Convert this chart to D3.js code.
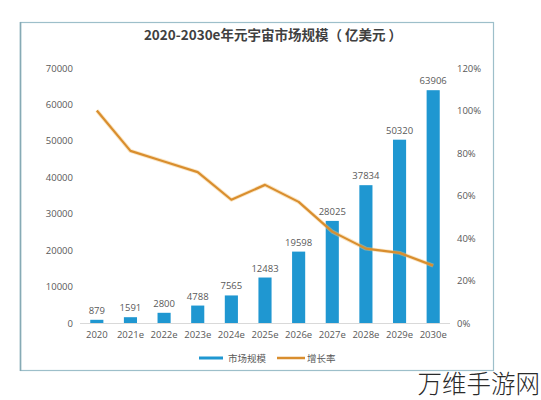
<!DOCTYPE html>
<html><head><meta charset="utf-8">
<script src="https://cdn.jsdelivr.net/npm/d3@7"></script>
<style>
html,body{margin:0;padding:0;background:#fff;}
svg{display:block;font-family:"Open Sans","Noto Sans CJK SC",sans-serif;}
</style></head>
<body><svg id="c" width="541" height="400"></svg>
<script>
const categories = ["2020","2021e","2022e","2023e","2024e","2025e","2026e","2027e","2028e","2029e","2030e"];
const marketSize = [879,1591,2800,4788,7565,12483,19598,28025,37834,50320,63906];
const growthRate = [1.00,0.81,0.76,0.71,0.58,0.65,0.57,0.43,0.35,0.33,0.27];
const leftTicks = [0,10000,20000,30000,40000,50000,60000,70000];
const rightTicks = [0,0.2,0.4,0.6,0.8,1.0,1.2];
const title = "2020-2030e年元宇宙市场规模（ 亿美元 ）";
const legendLabels = ["市场规模","增长率"];

const svg = d3.select("#c");
// frame
svg.append("rect").attr("x",20.5).attr("y",22.5).attr("width",473).attr("height",348)
  .attr("fill","#fff").attr("stroke","#9dbfca").attr("stroke-width",1.2);
svg.append("line").attr("x1",20.5).attr("x2",20.5).attr("y1",22).attr("y2",371)
  .attr("stroke","#86aab5").attr("stroke-width",1.6);

svg.append("text").attr("x",273).attr("y",40).attr("text-anchor","middle")
  .attr("font-size",13.5).attr("font-weight","bold").attr("fill","#404040")
  .attr("font-family","'Noto Sans CJK SC',sans-serif").text(title);

const x = d3.scaleBand().domain(categories).range([80,450]).paddingInner(0.61).paddingOuter(0.305);
const yL = d3.scaleLinear().domain([0,70000]).range([323,68]);
const yR = d3.scaleLinear().domain([0,1.2]).range([323,68]);

// baseline
svg.append("line").attr("x1",80).attr("x2",450).attr("y1",323.5).attr("y2",323.5)
  .attr("stroke","#d9d9d9").attr("stroke-width",1);

const axL = svg.append("g").attr("transform","translate(73,0)")
  .call(d3.axisLeft(yL).tickValues(leftTicks).tickSize(0).tickPadding(0).tickFormat(d3.format("d")));
axL.select(".domain").remove();
axL.selectAll("text").attr("font-size",9.5).attr("fill","#595959").attr("font-family","'Open Sans',sans-serif");

const axR = svg.append("g").attr("transform","translate(457,0)")
  .call(d3.axisRight(yR).tickValues(rightTicks).tickSize(0).tickPadding(0).tickFormat(d3.format(".0%")));
axR.select(".domain").remove();
axR.selectAll("text").attr("font-size",9.5).attr("fill","#595959").attr("font-family","'Open Sans',sans-serif");

const axB = svg.append("g").attr("transform","translate(0,331)")
  .call(d3.axisBottom(x).tickSize(0).tickPadding(0));
axB.select(".domain").remove();
axB.selectAll("text").attr("font-size",9.5).attr("fill","#595959").attr("font-family","'Open Sans',sans-serif");

svg.append("g").selectAll("rect").data(marketSize).join("rect")
  .attr("x",(d,i)=>x(categories[i])).attr("width",x.bandwidth())
  .attr("y",d=>yL(d)).attr("height",d=>yL(0)-yL(d)).attr("fill","#1f97d1");

svg.append("g").selectAll("text").data(marketSize).join("text")
  .attr("x",(d,i)=>x(categories[i])+x.bandwidth()/2).attr("y",d=>yL(d)-6)
  .attr("text-anchor","middle").attr("font-size",9.5).attr("fill","#595959")
  .attr("font-family","'Open Sans',sans-serif").text(d=>d);

const line = d3.line().x((d,i)=>x(categories[i])+x.bandwidth()/2).y(d=>yR(d));
svg.append("path").datum(growthRate).attr("d",line).attr("fill","none")
  .attr("stroke","#f5c67a").attr("stroke-width",4).attr("stroke-opacity",0.45).attr("stroke-linejoin","round");
svg.append("path").datum(growthRate).attr("d",line).attr("fill","none")
  .attr("stroke","#d98e2e").attr("stroke-width",2.2).attr("stroke-linejoin","round");

// legend
const lg = svg.append("g");
lg.append("line").attr("x1",199).attr("x2",223).attr("y1",358).attr("y2",358).attr("stroke","#1f97d1").attr("stroke-width",3);
lg.append("text").attr("x",228).attr("y",361.5).attr("font-size",9.5).attr("fill","#595959")
  .attr("font-family","'Noto Sans CJK SC',sans-serif").text(legendLabels[0]);
lg.append("line").attr("x1",277).attr("x2",305).attr("y1",358).attr("y2",358).attr("stroke","#d98e2e").attr("stroke-width",2.5);
lg.append("text").attr("x",307).attr("y",361.5).attr("font-size",9.5).attr("fill","#595959")
  .attr("font-family","'Noto Sans CJK SC',sans-serif").text(legendLabels[1]);

// watermark
svg.append("text").attr("x",540).attr("y",393).attr("text-anchor","end").attr("font-size",24.5)
  .attr("fill","#2a2a2a").attr("font-weight",300).attr("font-family","'Noto Sans CJK SC',sans-serif").text("万维手游网");
</script></body></html>
